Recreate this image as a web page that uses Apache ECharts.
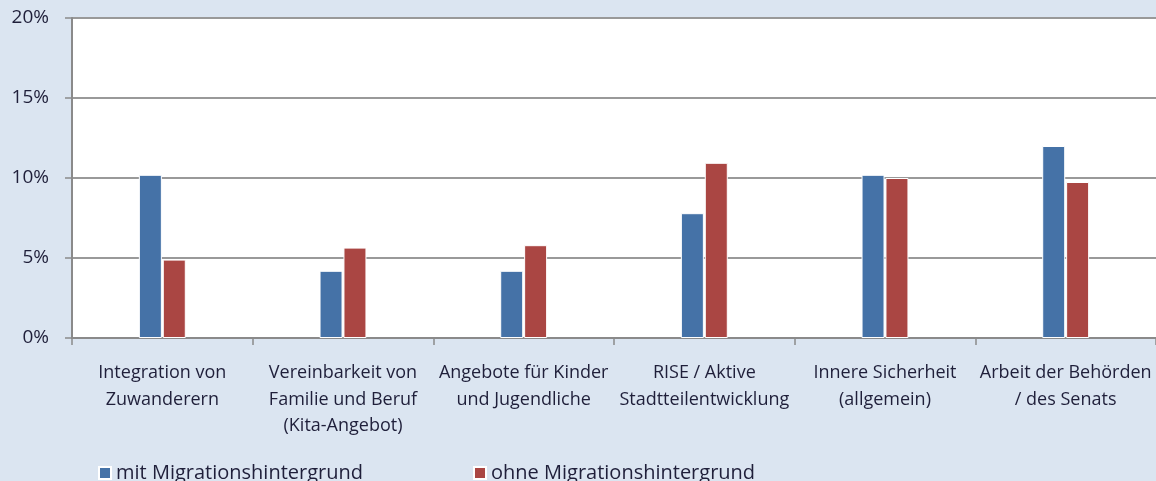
<!DOCTYPE html>
<html><head><meta charset="utf-8">
<script src="https://cdn.jsdelivr.net/npm/echarts@6/dist/echarts.min.js"></script>
<style>html,body{margin:0;padding:0;background:#dbe5f1;}#c{width:1156px;height:481px;}</style>
</head><body><div id="c"></div>
<script>
const categories = ["Integration von\nZuwanderern","Vereinbarkeit von\nFamilie und Beruf\n(Kita-Angebot)","Angebote für Kinder\nund Jugendliche","RISE / Aktive\nStadtteilentwicklung","Innere Sicherheit\n(allgemein)","Arbeit der Behörden\n/ des Senats"];
const seriesNames = ["mit Migrationshintergrund","ohne Migrationshintergrund"];
const mitValues = [10.2, 4.2, 4.2, 7.8, 10.2, 12.0];
const ohneValues = [4.9, 5.65, 5.8, 10.95, 10.0, 9.75];
const yTicks = [0, 5, 10, 15, 20];

const font = "'Open Sans', sans-serif";
const chart = echarts.init(document.getElementById('c'));
chart.setOption({
  backgroundColor: '#dbe5f1',
  animation: false,
  grid: {left: 72, top: 18, width: 1087, height: 320, show: true, backgroundColor: '#ffffff', borderWidth: 0, containLabel: false},
  legend: [
    {data: [seriesNames[0]], left: 93, top: 458, itemWidth: 12, itemHeight: 12, itemGap: 7, icon: 'rect',
     textStyle: {fontFamily: font, fontSize: 20, color: '#1f1f3a'}},
    {data: [seriesNames[1]], left: 468, top: 458, itemWidth: 12, itemHeight: 12, itemGap: 7, icon: 'rect',
     textStyle: {fontFamily: font, fontSize: 20, color: '#1f1f3a'}}
  ],
  xAxis: {
    type: 'category', data: categories,
    axisLine: {show: true, lineStyle: {color: '#8a8a8a', width: 2}},
    axisTick: {show: true, alignWithLabel: false, length: 7, lineStyle: {color: '#8a8a8a', width: 1.5}},
    axisLabel: {interval: 0, margin: 22, fontFamily: font, fontSize: 18, color: '#1f1f3a', lineHeight: 26.5, align: 'center'}
  },
  yAxis: {
    type: 'value', min: yTicks[0], max: yTicks[yTicks.length-1], interval: 5,
    axisLine: {show: true, lineStyle: {color: '#8a8a8a', width: 2}},
    axisTick: {show: true, length: 7, lineStyle: {color: '#8a8a8a', width: 1.5}},
    axisLabel: {formatter: v => v + '%', margin: 23, fontFamily: font, fontSize: 19, color: '#1f1f3a'},
    splitLine: {show: true, lineStyle: {color: '#999999', width: 2}}
  },
  series: [
    {name: seriesNames[0], type: 'bar', data: mitValues, barWidth: 23, barGap: '4%',
     itemStyle: {color: '#4572a7', borderColor: '#ffffff', borderWidth: 1}},
    {name: seriesNames[1], type: 'bar', data: ohneValues, barWidth: 23, barGap: '4%',
     itemStyle: {color: '#aa4643', borderColor: '#ffffff', borderWidth: 1}}
  ]
});
</script></body></html>
